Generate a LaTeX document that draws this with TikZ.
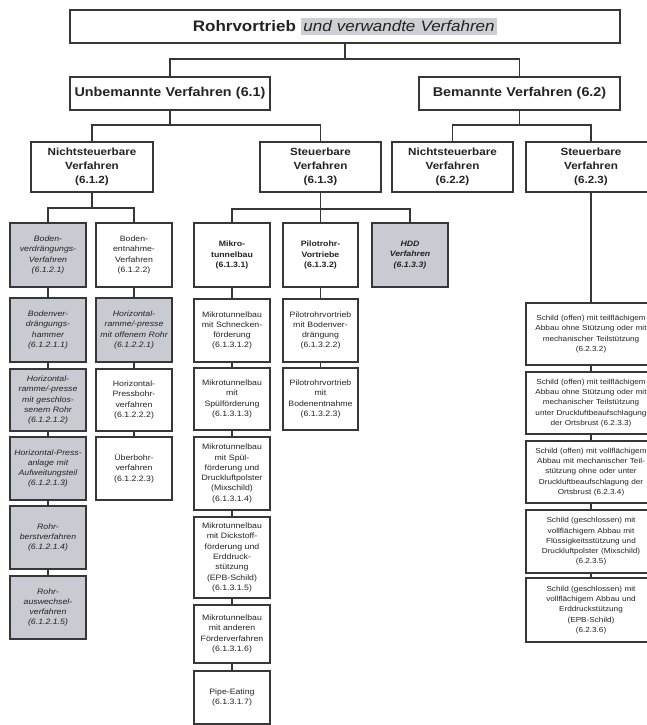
\documentclass[tikz,border=0pt]{standalone}
\usepackage{fontspec}
\setmainfont{Liberation Sans}[FakeStretch=1.12]
\definecolor{linec}{RGB}{55,55,55}
\definecolor{txtc}{RGB}{35,35,35}
\definecolor{grayfill}{RGB}{200,203,210}
\definecolor{hl}{RGB}{205,207,213}
\newcommand\mybox[7]{\node[#6,text width=#4pt,minimum height=#5pt] (#1) at (#2,#3) {#7};}
\tikzset{
  bx/.style={rectangle,draw=linec,line width=1.1pt,fill=white,inner sep=0pt,align=center,text=txtc},
  gbx/.style={bx,fill=grayfill},
  lvtwo/.style={bx,font=\fontsize{12.8}{15}\selectfont\bfseries},
  lvthree/.style={bx,font=\fontsize{10.4}{14}\selectfont\bfseries},
  sm/.style={bx,font=\fontsize{7.8}{10.3}\selectfont},
  smr/.style={bx,font=\fontsize{7.3}{10.3}\selectfont},
  smb/.style={sm,font=\fontsize{7.8}{10.3}\selectfont\bfseries},
  smi/.style={sm,fill=grayfill,font=\fontsize{7.8}{10.3}\selectfont\itshape},
  smbi/.style={sm,fill=grayfill,font=\fontsize{7.8}{10.3}\selectfont\bfseries\itshape},
  conn/.style={draw=linec,line width=1.1pt}
}
\begin{document}
\begin{tikzpicture}[x=1pt,y=-1pt]
\useasboundingbox (0,0) rectangle (647,725);
\clip (0,0) rectangle (647,725);
% level 1
\mybox{top}{345}{26.5}{550}{33}{bx,font=\fontsize{15.2}{18}\selectfont}{{\bfseries Rohrvortrieb} {\setlength{\fboxsep}{2.5pt}\colorbox{hl}{\itshape und verwandte Verfahren}}}
% level 2
\mybox{u61}{170}{93.5}{200}{33}{lvtwo}{Unbemannte Verfahren (6.1)}
\mybox{b62}{519.5}{93.5}{201}{33}{lvtwo}{Bemannte Verfahren (6.2)}
% level 3
\mybox{n612}{92}{167}{122}{50}{lvthree}{Nichtsteuerbare\\Verfahren\\(6.1.2)}
\mybox{s613}{320.5}{167}{121}{50}{lvthree}{Steuerbare\\Verfahren\\(6.1.3)}
\mybox{n622}{452.5}{167}{121}{50}{lvthree}{Nichtsteuerbare\\Verfahren\\(6.2.2)}
\mybox{s623}{591}{167}{130}{50}{lvthree}{Steuerbare\\Verfahren\\(6.2.3)}
% level 4
\mybox{a6121}{48}{255}{76}{64}{smi}{Boden-\\verdrängungs-\\Verfahren\\(6.1.2.1)}
\mybox{a6122}{134}{255}{76}{64}{sm}{Boden-\\entnahme-\\Verfahren\\(6.1.2.2)}
\mybox{a6131}{232}{255}{76}{64}{smb}{Mikro-\\tunnelbau\\(6.1.3.1)}
\mybox{a6132}{320.5}{255}{75}{64}{smb}{Pilotrohr-\\Vortriebe\\(6.1.3.2)}
\mybox{a6133}{410}{255}{76}{64}{smbi}{HDD\\Verfahren\\(6.1.3.3)}
% chain 6.1.2.1
\mybox{c1}{48}{330}{76}{64}{smi}{Bodenver-\\drängungs-\\hammer\\(6.1.2.1.1)}
\mybox{c2}{48}{400}{76}{62}{smi}{Horizontal-\\ramme/-presse\\mit geschlos-\\senem Rohr\\(6.1.2.1.2)}
\mybox{c3}{48}{468.5}{76}{63}{smi}{Horizontal-Press-\\anlage mit\\Aufweitungsteil\\(6.1.2.1.3)}
\mybox{c4}{48}{537.5}{76}{63}{smi}{Rohr-\\berstverfahren\\(6.1.2.1.4)}
\mybox{c5}{48}{607.5}{76}{63}{smi}{Rohr-\\auswechsel-\\verfahren\\(6.1.2.1.5)}
% chain 6.1.2.2
\mybox{d1}{134}{330}{76}{64}{smi}{Horizontal-\\ramme/-presse\\mit offenem Rohr\\(6.1.2.2.1)}
\mybox{d2}{134}{400}{76}{62}{sm}{Horizontal-\\Pressbohr-\\verfahren\\(6.1.2.2.2)}
\mybox{d3}{134}{468.5}{76}{63}{sm}{Überbohr-\\verfahren\\(6.1.2.2.3)}
% chain 6.1.3.1
\mybox{e1}{232}{330.5}{76}{63}{sm}{Mikrotunnelbau\\mit Schnecken-\\förderung\\(6.1.3.1.2)}
\mybox{e2}{232}{399}{76}{62}{sm}{Mikrotunnelbau\\mit\\Spülförderung\\(6.1.3.1.3)}
\mybox{e3}{232}{473.5}{76}{73}{sm}{Mikrotunnelbau\\mit Spül-\\förderung und\\Druckluftpolster\\(Mixschild)\\(6.1.3.1.4)}
\mybox{e4}{232}{557.5}{76}{81}{sm}{Mikrotunnelbau\\mit Dickstoff-\\förderung und\\Erddruck-\\stützung\\(EPB-Schild)\\(6.1.3.1.5)}
\mybox{e5}{232}{634}{76}{58}{sm}{Mikrotunnelbau\\mit anderen\\Förderverfahren\\(6.1.3.1.6)}
\mybox{e6}{232}{697.5}{76}{53}{sm}{Pipe-Eating\\(6.1.3.1.7)}
% chain 6.1.3.2
\mybox{f1}{320.5}{330.5}{75}{63}{sm}{Pilotrohrvortrieb\\mit Bodenver-\\drängung\\(6.1.3.2.2)}
\mybox{f2}{320.5}{399}{75}{62}{sm}{Pilotrohrvortrieb\\mit\\Bodenentnahme\\(6.1.3.2.3)}
% chain 6.2.3
\mybox{g1}{591}{334}{130}{62}{smr}{Schild (offen) mit teilflächigem\\Abbau ohne Stützung oder mit\\mechanischer Teilstützung\\(6.2.3.2)}
\mybox{g2}{591}{403}{130}{62}{smr}{Schild (offen) mit teilflächigem\\Abbau ohne Stützung oder mit\\mechanischer Teilstützung\\unter Druckluftbeaufschlagung\\der Ortsbrust (6.2.3.3)}
\mybox{g3}{591}{472}{130}{62}{smr}{Schild (offen) mit vollflächigem\\Abbau mit mechanischer Teil-\\stützung ohne oder unter\\Druckluftbeaufschlagung der\\Ortsbrust (6.2.3.4)}
\mybox{g4}{591}{541.5}{130}{63}{smr}{Schild (geschlossen) mit\\vollflächigem Abbau mit\\Flüssigkeitsstützung und\\Druckluftpolster (Mixschild)\\(6.2.3.5)}
\mybox{g5}{591}{610}{130}{64}{smr}{Schild (geschlossen) mit\\vollflächigem Abbau und\\Erddruckstützung\\(EPB-Schild)\\(6.2.3.6)}
% junctions
\coordinate (j0) at (345,59);
\coordinate (j1) at (170,125);
\coordinate (j2) at (519.5,125);
\coordinate (j3) at (92,208);
\coordinate (j4) at (320.5,209);
% connectors
\draw[conn] (top.south) -- (j0) -| (u61.north);
\draw[conn] (j0) -| (b62.north);
\draw[conn] (u61.south) -- (j1) -| (n612.north);
\draw[conn] (j1) -| (s613.north);
\draw[conn] (b62.south) -- (j2) -| (n622.north);
\draw[conn] (j2) -| (s623.north);
\draw[conn] (n612.south) -- (j3) -| (a6121.north);
\draw[conn] (j3) -| (a6122.north);
\draw[conn] (s613.south) -- (j4) -| (a6131.north);
\draw[conn] (j4) -| (a6133.north);
\draw[conn] (j4) -- (a6132.north);
\draw[conn] (a6121.south) -- (c1.north);
\draw[conn] (c1.south) -- (c2.north);
\draw[conn] (c2.south) -- (c3.north);
\draw[conn] (c3.south) -- (c4.north);
\draw[conn] (c4.south) -- (c5.north);
\draw[conn] (a6122.south) -- (d1.north);
\draw[conn] (d1.south) -- (d2.north);
\draw[conn] (d2.south) -- (d3.north);
\draw[conn] (a6131.south) -- (e1.north);
\draw[conn] (e1.south) -- (e2.north);
\draw[conn] (e2.south) -- (e3.north);
\draw[conn] (e3.south) -- (e4.north);
\draw[conn] (e4.south) -- (e5.north);
\draw[conn] (e5.south) -- (e6.north);
\draw[conn] (a6132.south) -- (f1.north);
\draw[conn] (f1.south) -- (f2.north);
\draw[conn] (s623.south) -- (g1.north);
\draw[conn] (g1.south) -- (g2.north);
\draw[conn] (g2.south) -- (g3.north);
\draw[conn] (g3.south) -- (g4.north);
\draw[conn] (g4.south) -- (g5.north);
\end{tikzpicture}
\end{document}
